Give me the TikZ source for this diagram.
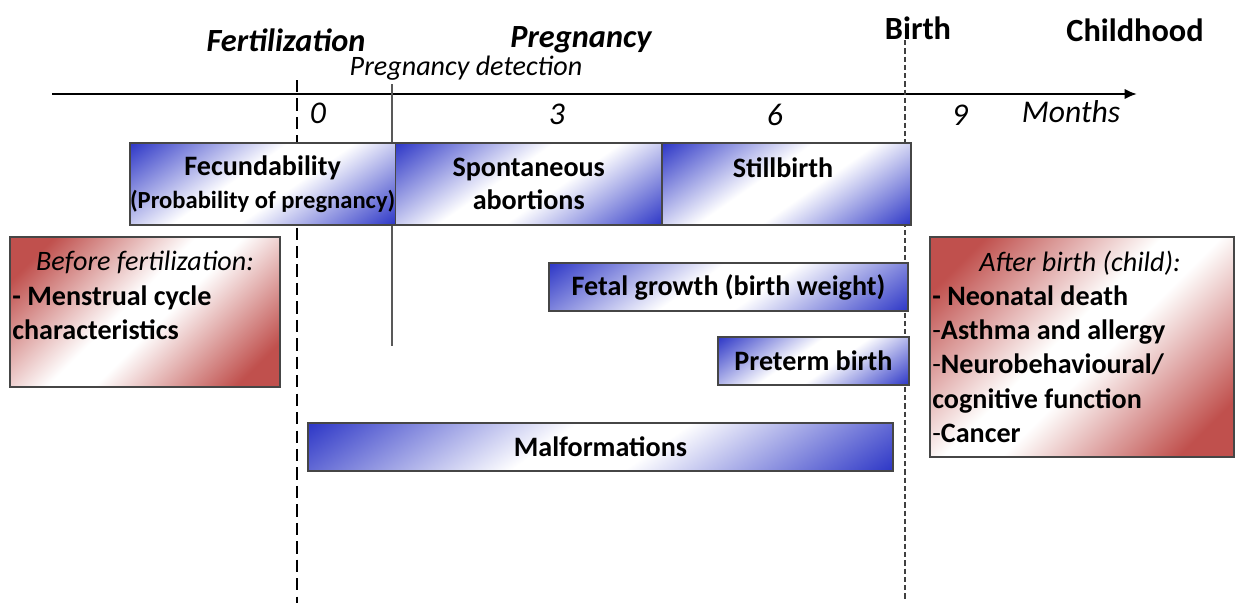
\documentclass[tikz,border=0pt]{standalone}
\usepackage{fontspec}
\setmainfont{Carlito}
\usetikzlibrary{arrows.meta, positioning}
\definecolor{bshade}{RGB}{36,46,196}
\definecolor{rshade}{RGB}{192,80,77}
\definecolor{boxline}{RGB}{70,70,70}
\pgfdeclareverticalshading{bluecorners}{100bp}{color(0bp)=(bshade); color(14bp)=(bshade); color(44bp)=(white); color(56bp)=(white); color(86bp)=(bshade); color(100bp)=(bshade)}
\pgfdeclareverticalshading{redcorners}{100bp}{color(0bp)=(rshade); color(22bp)=(rshade); color(46bp)=(white); color(54bp)=(white); color(78bp)=(rshade); color(100bp)=(rshade)}

\begin{document}
\begin{tikzpicture}
    [
        x=0.02cm, y=-0.02cm,
        bluebox/.style={draw=boxline, line width=0.8pt, shading=bluecorners, shading angle=35, anchor=north west, inner sep=0pt, outer sep=0pt, font=\fontsize{16}{18.7}\selectfont\bfseries, align=center},
        redbox/.style={draw=boxline, line width=0.8pt, shading=redcorners, shading angle=45, anchor=north west, inner sep=0pt, outer sep=0pt},
        stage/.style={font=\fontsize{18.4}{20}\selectfont\bfseries\itshape},
        moment/.style={font=\fontsize{18.4}{20}\selectfont\bfseries},
        tick/.style={font=\fontsize{18}{20}\selectfont\itshape},
        period/.style={font=\fontsize{16}{19}\selectfont\itshape},
        items/.style={font=\fontsize{16}{19.6}\selectfont\bfseries, align=left, anchor=north west, inner sep=0pt},
    ]
    \useasboundingbox (0,0) rectangle (1235,603);

    % time axis and the three vertical marks
    \coordinate (axis start) at (52,94);
    \coordinate (axis end) at (1137,94);
    \coordinate (fert top) at (297,80);
    \coordinate (fert bottom) at (297,603);
    \coordinate (detect top) at (392,84);
    \coordinate (detect bottom) at (392,346);
    \coordinate (birth top) at (905,40);
    \coordinate (birth bottom) at (905,600);
    \draw[line width=1.6pt, -{Latex[length=7pt,width=6pt]}] (axis start) -- (axis end);
    \draw[line width=1.6pt, dash pattern=on 7pt off 3.5pt] (fert top) -- (fert bottom);
    \draw[line width=1.2pt, black!65] (detect top) -- (detect bottom);
    \draw[line width=1.1pt, black!75, dash pattern=on 3pt off 1.7pt] (birth top) -- (birth bottom);

    \node[stage] (fert) at (286,40) {Fertilization};
    \node[stage] (preg) at (581,40) {Pregnancy};
    \node[tick, font=\fontsize{16}{18}\selectfont\itshape] (detect) at (466,68) {Pregnancy detection};
    \node[moment] (birth) at (918,28) {Birth};
    \node[moment] (childhood) at (1135,30) {Childhood};

    \node[tick] (m0) at (318,113) {0};
    \node[tick] (m3) at (557,114) {3};
    \node[tick] (m6) at (775,115) {6};
    \node[tick] (m9) at (960,115) {9};
    \node[tick] (months) at (1071,112) {Months};

    % outcome boxes
    \node[bluebox, minimum width=5.24cm, minimum height=1.64cm] (fecund) at (130,143) {Fecundability\\\fontsize{14}{18.7}\selectfont(Probability of pregnancy)};
    \node[bluebox, minimum width=5.34cm, minimum height=1.64cm, right=0pt of fecund] (spont) {Spontaneous\\abortions};
    \node[bluebox, minimum width=4.98cm, minimum height=1.64cm, right=0pt of spont] (still) {};
    \node[font=\fontsize{16}{18.7}\selectfont\bfseries] (still text) at (783,168) {Stillbirth};
    \node[bluebox, minimum width=7.18cm, minimum height=0.96cm] (fetal) at (549,263) {Fetal growth (birth weight)};
    \node[bluebox, minimum width=3.82cm, minimum height=0.96cm] (preterm) at (718,337) {Preterm birth};
    \node[bluebox, minimum width=11.7cm, minimum height=0.96cm] (malform) at (308,423) {Malformations};

    \node[redbox, minimum width=5.4cm, minimum height=3cm] (before) at (10,237) {};
    \node[period] (before title) at (145,262) {Before fertilization:};
    \node[items] (before list) at (12,285) {- Menstrual cycle\\characteristics};

    \node[redbox, minimum width=6.08cm, minimum height=4.4cm] (after) at (930,237) {};
    \node[period] (after title) at (1080,263) {After birth (child):};
    \node[items] (after list) at (932,285) {- Neonatal death\\\textmd{-}Asthma and allergy\\\textmd{-}Neurobehavioural/\\cognitive function\\\textmd{-}Cancer};
\end{tikzpicture}
\end{document}
